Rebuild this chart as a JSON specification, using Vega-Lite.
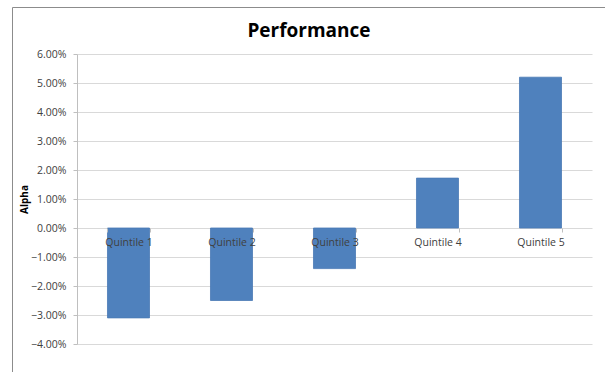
{
  "$schema": "https://vega.github.io/schema/vega-lite/v6.json",
  "autosize": "none",
  "padding": {"left": 12, "top": 7, "right": 0, "bottom": 0},
  "width": 594,
  "height": 370,
  "background": "#ffffff",
  "title": {
    "text": "Performance",
    "font": "Open Sans",
    "fontSize": 19,
    "fontWeight": "bold",
    "color": "#000000",
    "anchor": "middle",
    "baseline": "middle",
    "dy": 47
  },
  "data": {
    "values": [
      {"quintile": "Quintile 1", "alpha": -0.031},
      {"quintile": "Quintile 2", "alpha": -0.025},
      {"quintile": "Quintile 3", "alpha": -0.014},
      {"quintile": "Quintile 4", "alpha": 0.0172},
      {"quintile": "Quintile 5", "alpha": 0.052}
    ]
  },
  "mark": {"type": "bar", "color": "#4f81bd", "stroke": "#4a7ab5", "strokeWidth": 0.8},
  "encoding": {
    "x": {
      "field": "quintile",
      "type": "nominal",
      "sort": null,
      "scale": {"range": [65, 580], "paddingInner": 0.592, "paddingOuter": 0.296},
      "axis": {
        "title": null,
        "orient": "bottom",
        "offset": -149,
        "labelAngle": 0,
        "labelFont": "Open Sans",
        "labelFontSize": 10.5,
        "labelColor": "#404040",
        "labelPadding": 5,
        "tickBand": "extent",
        "tickSize": 4,
        "tickColor": "#bfbfbf",
        "domain": false,
        "grid": false,
        "zindex": 1
      }
    },
    "y": {
      "field": "alpha",
      "type": "quantitative",
      "scale": {"domain": [-0.04, 0.06], "range": [337, 47], "nice": false},
      "axis": {
        "title": "Alpha",
        "titleFont": "Open Sans",
        "titleFontSize": 10,
        "titleFontWeight": "bold",
        "titleColor": "#000000",
        "titlePadding": 1,
        "offset": -65,
        "values": [-0.04, -0.03, -0.02, -0.01, 0, 0.01, 0.02, 0.03, 0.04, 0.05, 0.06],
        "format": ".2%",
        "labelFont": "Open Sans",
        "labelFontSize": 10.5,
        "labelColor": "#404040",
        "labelPadding": 7,
        "tickSize": 4,
        "tickColor": "#bfbfbf",
        "domainColor": "#bfbfbf",
        "gridColor": "#d9d9d9",
        "gridWidth": 1
      }
    }
  },
  "config": {
    "view": {"stroke": "#8c8c8c", "strokeWidth": 1}
  }
}
